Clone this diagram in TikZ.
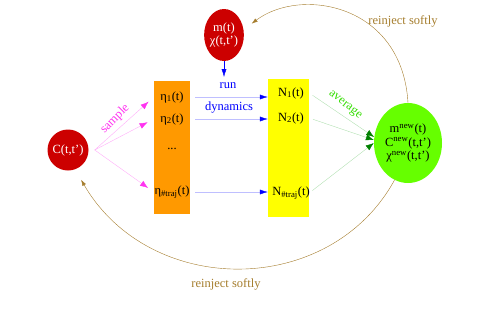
\documentclass[tikz,border=0pt]{standalone}
\usepackage{fontspec}
\setmainfont{Liberation Serif}
\usetikzlibrary{arrows.meta,shapes.geometric}
\definecolor{cred}{RGB}{204,0,0}
\definecolor{corange}{RGB}{255,153,0}
\definecolor{cyellow}{RGB}{255,255,0}
\definecolor{cgreen}{RGB}{102,255,0}
\definecolor{cbrown}{RGB}{165,125,45}
\definecolor{cmagenta}{RGB}{255,51,240}
\definecolor{cavg}{RGB}{51,220,0}
\begin{document}
\begin{tikzpicture}[x=1pt,y=1pt,
		every node/.style={font=\fontsize{12.5}{13.5}\selectfont},
		blob/.style={ellipse,inner sep=0pt,fill=cred,text=white,align=center},
		column/.style={rectangle,inner sep=0pt,minimum width=#1},
		samplearrow/.style={cmagenta!40,-{Latex[color=cmagenta,length=8pt,width=6pt]},shorten <=0pt,shorten >=7pt},
		runarrow/.style={blue!25,-{Latex[color=blue,length=8pt,width=5pt]}},
		avgarrow/.style={green!60!black!30,-{Latex[color=green!50!black,length=8pt,width=6pt]},shorten <=4pt},
		reinject/.style={cbrown,thin,-{Latex[length=6pt,width=4pt]}}]
		\useasboundingbox (0,0) rectangle (500,325);
		\node[blob,circle,minimum size=41pt] (C) at (68,175) {C(t,t’)};
		\node[blob,minimum width=34pt,minimum height=52pt] (m) at (224,290) {m(t)\\χ(t,t’)};
		\node[column=36pt,fill=corange,minimum height=133pt] (trajbox) at (172,177.5) {};
		\node[column=41pt,fill=cyellow,minimum height=138pt] (countbox) at (288.5,177) {};
		\node[ellipse,inner sep=0pt,fill=cgreen,minimum width=68pt,minimum height=80pt,align=center] (new) at (408,182)
			{m\textsuperscript{new}(t)\\C\textsuperscript{new}(t,t’)\\χ\textsuperscript{new}(t,t’)};
		\node (eta1) at (172,228) {η\textsubscript{1}(t)};
		\node (eta2) at (172,206) {η\textsubscript{2}(t)};
		\node (dots) at (172,176) {...};
		\node (etatraj) at (172,133) {η\textsubscript{\#traj}(t)};
		\node (N1) at (291,232) {N\textsubscript{1}(t)};
		\node (N2) at (291,207) {N\textsubscript{2}(t)};
		\node (Ntraj) at (291,132) {N\textsubscript{\#traj}(t)};
		\coordinate (runtip) at (224,248);
		\draw[blue,-{Latex[length=8pt,width=5pt]}] (m.south) -- (runtip);
		\foreach \k in {1,2,traj} {
			\draw[samplearrow] ([xshift=6pt]C.east) -- (trajbox.west |- eta\k);
			\draw[runarrow] ([xshift=5pt]trajbox.east |- eta\k) -- (countbox.west |- eta\k);
		}
		\foreach \k/\a in {1/170,2/175,traj/180} {
			\draw[avgarrow] (countbox.east |- N\k) -- (new.\a);
		}
		\node[text=cmagenta,rotate=45] (samplelabel) at (115,206) {sample};
		\node[text=blue] (runlabel) at (228,239) {run};
		\node[text=blue] (dynlabel) at (229,217) {dynamics};
		\node[text=cavg,rotate=-38] (avglabel) at (345,220) {average};
		\draw[reinject,shorten >=10pt] (new.north) .. controls (402,322) and (300,338) .. (m.15);
		\draw[reinject,shorten >=12pt] (new.250) .. controls (330,27) and (150,27) .. (C.290);
		\node[text=cbrown] (toplabel) at (403,304) {reinject softly};
		\node[text=cbrown] (bottomlabel) at (226,41) {reinject softly};
	\end{tikzpicture}
\end{document}
